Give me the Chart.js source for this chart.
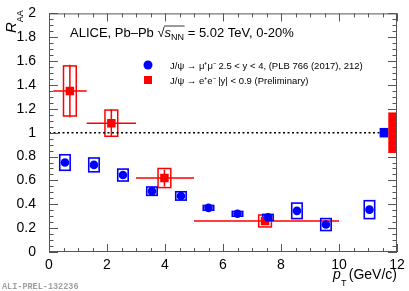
<!DOCTYPE html>
<html>
<head>
<meta charset="utf-8">
<script src="https://cdn.jsdelivr.net/npm/chart.js@4.4.0/dist/chart.umd.min.js"></script>
<style>
html, body { margin: 0; padding: 0; background: #fff; }
#c { display: block; }
</style>
</head>
<body>
<canvas id="c" width="409" height="291"></canvas>
<script>
// J/psi -> mu+mu-, 2.5 < y < 4 (PLB 766 (2017) 212)
const muPt = [0.55, 1.55, 2.55, 3.55, 4.55, 5.5, 6.5, 7.55, 8.55, 9.55, 11.05];
const muRaa = [0.75, 0.73, 0.645, 0.51, 0.47, 0.37, 0.32, 0.29, 0.345, 0.23, 0.355];
const muStat = [0.02, 0.02, 0.02, 0.015, 0.015, 0.01, 0.01, 0.015, 0.025, 0.025, 0.03];
const muSyst = [0.065, 0.058, 0.05, 0.035, 0.035, 0.02, 0.02, 0.025, 0.065, 0.05, 0.075];

// J/psi -> e+e-, |y| < 0.9 (preliminary)
const eePt = [0.72, 2.15, 3.98, 7.45];
const eePtLow = [0.15, 1.3, 3, 5];
const eePtHigh = [1.3, 3, 5, 10];
const eeRaa = [1.35, 1.08, 0.62, 0.26];
const eeStat = [0.22, 0.115, 0.07, 0.03];
const eeSyst = [0.21, 0.11, 0.08, 0.05];

// global (correlated) uncertainties, drawn at R_AA = 1
const globalMu = 0.04;
const globalEe = 0.17;

const xTicks = [0, 2, 4, 6, 8, 10, 12];
const yTicks = [0, 0.2, 0.4, 0.6, 0.8, 1, 1.2, 1.4, 1.6, 1.8, 2];

const FONT = '"Liberation Sans", Arial, Helvetica, sans-serif';
const BLUE = '#0000ff';
const RED = '#ff0000';

/**
 * ROOT-like decorations: error bars, syst boxes, frame with inner ticks, texts.
 */
const rootStyle = {
    id: 'rootStyle',
    beforeDatasetsDraw(chart) {
        const ctx = chart.ctx;
        const x = chart.scales.x, y = chart.scales.y;
        ctx.save();

        // e+e- stat bars and syst boxes
        ctx.strokeStyle = RED;
        ctx.lineWidth = 1.5;
        eePt.forEach((pt, i) => {
            const px = x.getPixelForValue(pt);
            const py = y.getPixelForValue(eeRaa[i]);
            ctx.beginPath();
            ctx.moveTo(x.getPixelForValue(eePtLow[i]), py);
            ctx.lineTo(x.getPixelForValue(eePtHigh[i]), py);
            ctx.moveTo(px, y.getPixelForValue(eeRaa[i] - eeStat[i]));
            ctx.lineTo(px, y.getPixelForValue(eeRaa[i] + eeStat[i]));
            ctx.stroke();
            const bx0 = x.getPixelForValue(pt - 0.22), bx1 = x.getPixelForValue(pt + 0.22);
            const by0 = y.getPixelForValue(eeRaa[i] + eeSyst[i]), by1 = y.getPixelForValue(eeRaa[i] - eeSyst[i]);
            ctx.strokeRect(bx0, by0, bx1 - bx0, by1 - by0);
        });

        // mu+mu- stat bars and syst boxes
        ctx.strokeStyle = BLUE;
        muPt.forEach((pt, i) => {
            const px = x.getPixelForValue(pt);
            ctx.lineWidth = 1;
            ctx.beginPath();
            ctx.moveTo(px, y.getPixelForValue(muRaa[i] - muStat[i]));
            ctx.lineTo(px, y.getPixelForValue(muRaa[i] + muStat[i]));
            ctx.stroke();
            ctx.lineWidth = 1.6;
            const bx0 = x.getPixelForValue(pt - 0.18), bx1 = x.getPixelForValue(pt + 0.18);
            const by0 = y.getPixelForValue(muRaa[i] + muSyst[i]), by1 = y.getPixelForValue(muRaa[i] - muSyst[i]);
            ctx.strokeRect(bx0, by0, bx1 - bx0, by1 - by0);
        });
        ctx.restore();
    },
    afterDatasetsDraw(chart) {
        const ctx = chart.ctx;
        const x = chart.scales.x, y = chart.scales.y;
        ctx.save();
        // global uncertainty boxes
        let x0 = x.getPixelForValue(11.4), x1 = x.getPixelForValue(11.7);
        ctx.fillStyle = BLUE;
        ctx.fillRect(x0, y.getPixelForValue(1 + globalMu), x1 - x0, y.getPixelForValue(1 - globalMu) - y.getPixelForValue(1 + globalMu));
        x0 = x.getPixelForValue(11.7); x1 = x.getPixelForValue(12);
        ctx.fillStyle = RED;
        ctx.fillRect(x0, y.getPixelForValue(1 + globalEe), x1 - x0, y.getPixelForValue(1 - globalEe) - y.getPixelForValue(1 + globalEe));
        ctx.restore();
    },
    afterDraw(chart) {
        const ctx = chart.ctx;
        const a = chart.chartArea;
        const x = chart.scales.x, y = chart.scales.y;
        ctx.save();

        // frame + ticks
        ctx.strokeStyle = '#555';
        ctx.lineWidth = 1;
        ctx.strokeRect(a.left + 0.5, a.top + 0.5, a.right - a.left - 1, a.bottom - a.top - 1);
        ctx.beginPath();
        for (let v = 0; v <= 12.001; v += 0.5) {
            const px = Math.round(x.getPixelForValue(v)) + 0.5;
            const len = Math.abs(v % 2) < 1e-6 ? 8 : 4;
            ctx.moveTo(px, a.bottom); ctx.lineTo(px, a.bottom - len);
            ctx.moveTo(px, a.top); ctx.lineTo(px, a.top + len);
        }
        for (let v = 0; v <= 2.0001; v += 0.05) {
            const py = Math.round(y.getPixelForValue(v)) + 0.5;
            const major = Math.abs(Math.round(v * 100) % 20) < 1e-6;
            const len = major ? 9 : 4.5;
            ctx.moveTo(a.left, py); ctx.lineTo(a.left + len, py);
            ctx.moveTo(a.right, py); ctx.lineTo(a.right - len, py);
        }
        ctx.stroke();

        ctx.fillStyle = '#000';
        ctx.textBaseline = 'alphabetic';
        ctx.textAlign = 'left';

        // title
        let tx = 70;
        const ty = 36.5;
        ctx.font = '13px ' + FONT;
        ctx.fillText('ALICE, Pb\u2013Pb ', tx, ty);
        tx += ctx.measureText('ALICE, Pb\u2013Pb ').width;
        ctx.fillText('\u221A', tx, ty);
        tx += ctx.measureText('\u221A').width;
        const ox = tx - 0.5;
        ctx.font = 'italic 13px ' + FONT;
        ctx.fillText('s', tx, ty);
        tx += ctx.measureText('s').width;
        ctx.font = '9px ' + FONT;
        ctx.fillText('NN', tx, ty + 3);
        tx += ctx.measureText('NN').width;
        ctx.strokeStyle = '#000';
        ctx.lineWidth = 0.8;
        ctx.beginPath();
        ctx.moveTo(ox, ty - 10.5); ctx.lineTo(tx + 0.5, ty - 10.5);
        ctx.stroke();
        ctx.font = '13px ' + FONT;
        ctx.fillText(' = 5.02 TeV, 0-20%', tx, ty);

        // legend
        ctx.fillStyle = BLUE;
        ctx.beginPath();
        ctx.arc(148, 65, 4.5, 0, Math.PI * 2);
        ctx.fill();
        ctx.fillStyle = RED;
        ctx.fillRect(144, 76, 8, 8);
        ctx.fillStyle = '#000';
        ctx.font = '9.5px ' + FONT;
        ctx.fillText('J/\u03C8 \u2192 \u03BC\u207A\u03BC\u207B 2.5 < y < 4, (PLB 766 (2017), 212)', 170, 68.5);
        ctx.fillText('J/\u03C8 \u2192 e\u207Ae\u207B |y| < 0.9 (Preliminary)', 170, 83.5);

        // x axis title
        ctx.font = 'italic 14px ' + FONT;
        ctx.fillText('p', 333, 279);
        ctx.font = '9px ' + FONT;
        ctx.fillText('T', 341, 286);
        ctx.font = '14px ' + FONT;
        ctx.textAlign = 'right';
        ctx.fillText('(GeV/c)', 397, 279);

        // y axis title, rotated
        ctx.save();
        ctx.translate(16, 33);
        ctx.rotate(-Math.PI / 2);
        ctx.textAlign = 'left';
        ctx.font = 'italic 15px ' + FONT;
        ctx.fillText('R', 0, 0);
        const rw = ctx.measureText('R').width;
        ctx.font = '9px ' + FONT;
        ctx.fillText('AA', rw, 7);
        ctx.restore();

        // preliminary id
        ctx.textAlign = 'left';
        ctx.fillStyle = '#a0a0a0';
        ctx.font = 'bold 8.5px "Liberation Mono", "DejaVu Sans Mono", monospace';
        ctx.fillText('ALI-PREL-132236', 2, 289);
        ctx.restore();
    }
};

const canvas = document.getElementById('c');

new Chart(canvas, {
    type: 'scatter',
    data: {
        datasets: [
            {
                label: 'mumu',
                data: muPt.map((pt, i) => ({ x: pt, y: muRaa[i] })),
                pointStyle: 'circle',
                pointRadius: 4.3,
                backgroundColor: BLUE,
                borderWidth: 0,
            },
            {
                label: 'ee',
                data: eePt.map((pt, i) => ({ x: pt, y: eeRaa[i] })),
                pointStyle: 'rect',
                pointRadius: 6,
                backgroundColor: RED,
                borderWidth: 0,
            },
            {
                type: 'line',
                label: 'unity',
                data: [{ x: 0, y: 1 }, { x: 12, y: 1 }],
                borderColor: '#000',
                borderWidth: 1.5,
                borderDash: [2, 2.5],
                pointRadius: 0,
                fill: false,
            },
        ]
    },
    options: {
        responsive: false,
        animation: false,
        events: [],
        layout: { padding: { top: 11, right: 12, left: 0, bottom: 0 } },
        plugins: {
            legend: { display: false },
            tooltip: { enabled: false },
        },
        scales: {
            x: {
                type: 'linear',
                min: 0,
                max: 12,
                afterBuildTicks: s => { s.ticks = xTicks.map(v => ({ value: v })); },
                afterFit: s => { s.height = 39; },
                grid: { display: false },
                border: { display: false },
                ticks: {
                    padding: -3,
                    maxRotation: 0,
                    color: '#000',
                    font: { family: FONT, size: 14 },
                    callback: v => String(v),
                },
            },
            y: {
                type: 'linear',
                min: 0,
                max: 2,
                afterBuildTicks: s => { s.ticks = yTicks.map(v => ({ value: v })); },
                afterFit: s => { s.width = 49; },
                grid: { display: false },
                border: { display: false },
                ticks: {
                    padding: 5,
                    color: '#000',
                    font: { family: FONT, size: 14 },
                    callback: v => String(Math.round(v * 10) / 10),
                },
            },
        },
    },
    plugins: [rootStyle],
});
</script>
</body>
</html>
